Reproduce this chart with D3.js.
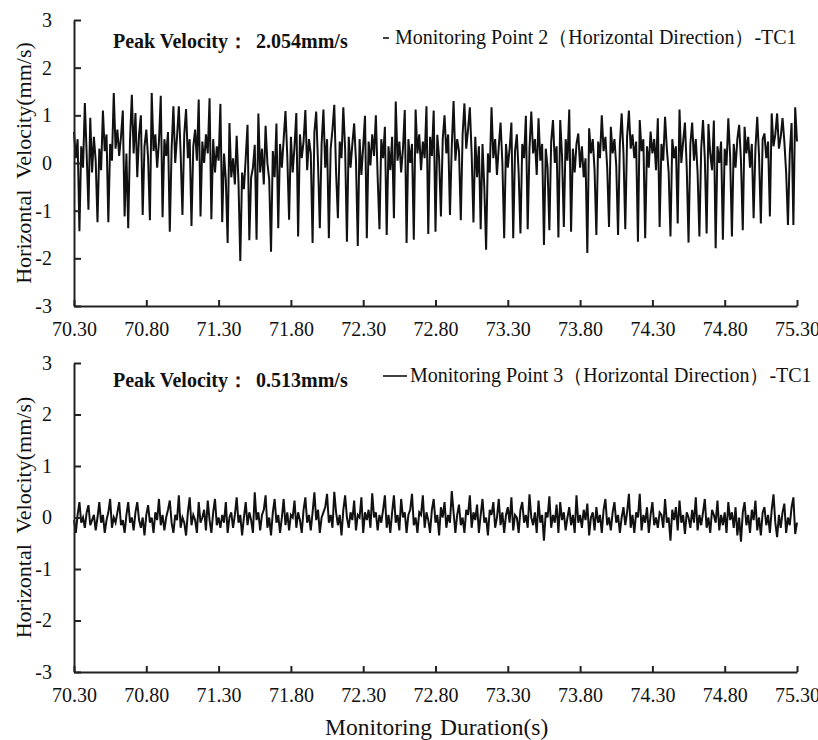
<!DOCTYPE html>
<html>
<head>
<meta charset="utf-8">
<script src="https://cdn.jsdelivr.net/npm/d3@7"></script>
<style>
  html, body { margin: 0; padding: 0; background: #fff; }
  svg { display: block; }
</style>
</head>
<body>
<svg id="chart" width="818" height="740" font-family="Liberation Serif, Times New Roman, serif"></svg>
<script>
// Sampling of the record (seconds)
const sampleStart = 70.30;
const sampleStep = 0.0125;

// Axis ticks
const xTicks = [70.30, 70.80, 71.30, 71.80, 72.30, 72.80, 73.30, 73.80, 74.30, 74.80, 75.30];
const yTicks = [-3, -2, -1, 0, 1, 2, 3];

// Monitoring point 2, horizontal velocity (mm/s)
const point2Velocity = [
  0.65, 0.1, 0.5, -1.43, 0.35, -0.1, 1.26, 0.2, -0.98, 0.95,
  -0.2, 0.55, 0.05, -1.24, 0.3, -0.15, 1.10, 0.25, 0.6, -1.24,
  0.4, 0.05, 1.47, 0.3, 0.7, 0.15, 0.55, 1.10, -1.12, 0.2,
  -1.37, 0.5, 1.43, 0.2, 1.05, -0.3, 0.6, 1.00, -1.09, 0.35,
  0.7, 0.1, -1.20, 1.47, 0.25, 0.6, -0.1, 0.45, 1.41, -1.14,
  0.5, 0.15, 0.65, -1.44, 0.3, 1.19, 0.0, 0.55, 1.19, 0.2,
  -1.09, 0.6, 1.13, 0.1, 0.5, -1.32, 0.35, 0.7, 0.05, 1.33,
  -1.12, 0.45, 0.0, 0.6, 0.2, 1.36, -1.18, 0.5, -0.2, 0.35,
  0.05, 1.24, -1.24, 0.2, -0.35, -1.68, 0.84, -0.3, 0.1, -0.45,
  0.57, -0.4, -2.054, -0.2, -0.55, 0.1, 0.80, -1.62, -0.3, -0.1,
  0.38, -1.61, 1.04, -0.2, 0.3, -0.45, 0.78, 0.0, -0.35, -1.86,
  0.25, -0.3, 0.83, -1.37, 0.4, -0.1, 0.5, 1.09, 0.15, -1.19,
  0.55, -0.2, 0.35, 1.05, -1.54, 0.6, 0.1, 0.45, 1.11, -0.15,
  0.5, 0.2, -1.68, 0.65, 1.08, 0.0, -1.37, 0.4, 1.12, -0.1,
  0.5, -1.58, 0.3, 0.7, 1.22, -0.2, -1.16, 0.45, 0.1, 1.17,
  0.3, -1.65, 0.55, -0.1, 0.4, 0.83, 0.05, -1.74, 0.5, -0.25,
  0.35, 0.99, -1.58, 0.45, -0.05, 0.6, 0.15, 1.00, -0.3, -1.39,
  0.5, 0.1, 0.76, -1.51, 0.35, -0.15, 0.55, -1.16, 1.29, 0.05,
  0.45, -0.2, 0.3, 1.11, -1.68, 0.5, 0.0, 0.4, -1.61, 1.12,
  0.2, 0.6, -0.15, 0.45, 0.1, 1.19, -1.49, 0.55, 0.15, 1.10,
  -1.44, 0.59, 0.1, -1.12, 0.5, 1.00, 0.2, 0.6, -1.09, 0.35,
  1.30, 0.05, 0.5, 0.25, -1.20, 0.6, 1.25, 0.3, 0.7, 1.17,
  0.2, -1.25, 0.55, -0.3, 0.35, -1.39, 0.4, -0.5, -1.82, 0.2,
  -0.2, 1.17, 0.1, 0.5, -0.25, 0.35, 0.85, 0.0, -1.58, 0.4,
  -0.1, 0.3, 0.85, -1.58, 0.25, 0.6, -0.2, -1.48, 0.4, 0.1,
  0.99, -1.39, 0.3, 1.08, 0.2, 0.5, -0.25, 0.94, 0.05, 0.4,
  -1.72, 0.3, -0.1, -1.41, 0.45, 0.90, 0.0, 0.35, -1.56, 0.90,
  0.15, -1.34, 0.5, 0.05, 1.12, -1.44, 0.3, -0.2, 0.4, 0.62,
  -0.1, 0.35, -0.3, 0.1, -1.89, 0.73, 0.2, 0.5, -0.15, -1.51,
  0.45, 0.1, 1.00, 0.25, 0.55, -0.1, -1.34, 0.76, 0.2, 0.5,
  -0.05, -1.51, 0.4, 1.04, 0.2, -1.39, 0.55, 1.10, 0.3, 0.6,
  0.1, 0.45, -1.65, 0.90, 0.25, 0.5, -1.58, 0.35, -0.1, 0.66,
  0.2, 0.5, -0.15, 0.94, -1.34, 0.4, 0.05, 0.97, 0.3, -0.2,
  -1.54, 0.5, 0.1, 0.35, -1.27, 1.12, 0.0, 0.45, 0.85, -0.1,
  -1.67, 0.4, 0.85, 0.05, 0.5, -0.2, -1.54, 0.3, 0.90, 0.1,
  -1.48, 0.82, 0.2, -0.15, 0.89, -1.79, 0.35, 0.0, 0.45, -1.61,
  0.3, -0.05, 0.94, 0.15, -1.54, 0.4, -0.1, 0.5, 0.80, 0.05,
  -1.41, 0.76, 0.2, 0.55, -0.1, 0.4, -1.16, 0.3, 0.97, 0.15,
  -1.27, 0.5, 0.62, 0.1, 0.45, -1.12, 1.04, 0.35, 0.6, 1.04,
  0.3, 0.55, 0.94, 0.45, -0.2, -1.30, 0.2, 0.84, -1.30, 1.17,
  0.45
];

// Monitoring point 3, horizontal velocity (mm/s)
const point3Velocity = [
  -0.05, -0.3, 0.05, 0.30, -0.1, 0.0, -0.2, 0.1, 0.24, -0.15,
  -0.05, 0.05, -0.25, 0.0, 0.30, -0.1, 0.05, -0.3, -0.05, 0.1,
  0.36, -0.2, 0.0, -0.1, 0.1, 0.30, -0.15, -0.05, -0.3, 0.05,
  0.30, -0.1, 0.0, -0.25, 0.1, 0.30, -0.05, -0.2, 0.0, -0.35,
  0.05, 0.24, -0.1, 0.0, -0.3, 0.1, -0.05, 0.36, -0.15, 0.05,
  -0.25, 0.0, 0.15, 0.33, -0.1, -0.3, 0.05, -0.05, 0.43, -0.2,
  0.0, -0.1, -0.35, 0.1, 0.39, -0.15, 0.05, -0.05, -0.3, 0.30,
  -0.1, 0.0, 0.15, -0.25, 0.33, -0.05, -0.3, 0.1, 0.36, -0.15,
  0.0, -0.2, 0.05, -0.1, 0.30, -0.3, 0.0, 0.1, -0.2, 0.05,
  0.39, -0.1, 0.05, -0.35, 0.0, 0.30, -0.15, 0.1, -0.05, -0.3,
  0.49, -0.05, 0.1, -0.25, 0.05, 0.15, 0.43, -0.2, 0.0, -0.35,
  0.1, 0.36, -0.1, 0.05, -0.3, 0.0, 0.36, -0.15, 0.1, -0.25,
  0.05, 0.0, 0.33, -0.2, 0.1, -0.05, -0.3, 0.15, 0.39, -0.1,
  0.05, -0.25, 0.1, 0.49, -0.05, 0.15, -0.3, 0.0, 0.1, 0.2,
  0.46, -0.1, 0.05, -0.2, 0.50, 0.1, -0.15, 0.05, -0.35, 0.15,
  0.43, 0.0, -0.2, 0.1, -0.05, 0.33, -0.25, 0.05, 0.0, 0.39,
  -0.3, 0.1, -0.05, 0.15, -0.2, 0.47, 0.0, 0.1, -0.25, 0.05,
  -0.1, 0.15, 0.43, -0.2, 0.05, -0.3, 0.1, 0.43, -0.1, 0.05,
  -0.25, 0.36, 0.0, 0.1, -0.3, 0.05, 0.15, 0.46, -0.15, 0.0,
  -0.3, 0.1, 0.05, 0.43, -0.2, 0.1, -0.05, -0.3, 0.15, 0.36,
  -0.1, 0.05, -0.35, 0.2, 0.0, 0.3, -0.2, 0.05, -0.1, 0.513,
  0.1, -0.3, 0.05, 0.25, -0.15, 0.0, -0.3, 0.15, 0.05, 0.43,
  -0.2, 0.1, -0.05, 0.25, -0.3, 0.05, 0.36, -0.1, 0.0, -0.35,
  0.15, 0.05, 0.3, -0.2, 0.0, 0.36, -0.15, 0.1, -0.3, 0.05,
  0.2, -0.1, 0.39, -0.25, 0.05, 0.0, -0.3, 0.15, 0.3, -0.1,
  0.05, -0.2, 0.45, 0.0, -0.15, 0.1, -0.3, 0.33, -0.1, 0.05,
  -0.45, 0.1, 0.0, 0.41, -0.2, 0.05, -0.1, 0.25, -0.3, 0.30,
  -0.05, 0.1, -0.25, 0.0, 0.2, -0.15, 0.05, -0.3, 0.43, -0.1,
  0.05, -0.2, 0.15, -0.05, 0.27, -0.35, 0.0, 0.1, -0.25, 0.2,
  -0.1, 0.05, -0.3, 0.15, 0.36, -0.15, 0.0, -0.25, 0.1, 0.30,
  -0.1, 0.05, -0.3, 0.0, 0.2, -0.15, 0.1, 0.46, -0.2, 0.05,
  -0.3, 0.1, 0.0, 0.46, -0.25, 0.05, -0.1, 0.2, -0.3, 0.05,
  0.30, -0.15, 0.0, -0.2, 0.1, 0.05, -0.2, 0.36, -0.1, 0.0,
  -0.45, 0.15, -0.05, 0.2, -0.25, 0.33, -0.1, 0.05, -0.32, 0.1,
  0.0, -0.2, 0.15, -0.1, 0.39, -0.25, 0.05, -0.15, 0.1, 0.36,
  -0.2, 0.0, -0.3, 0.15, 0.05, -0.1, 0.33, -0.25, 0.05, -0.15,
  0.1, -0.3, 0.30, -0.05, 0.1, -0.2, 0.2, -0.35, 0.0, -0.47,
  0.1, 0.30, -0.15, 0.05, -0.3, 0.15, -0.05, 0.33, -0.25, 0.0,
  -0.35, 0.1, 0.2, -0.15, 0.05, -0.3, 0.15, 0.45, -0.1, -0.38,
  0.05, -0.2, 0.1, 0.27, -0.3, 0.0, -0.15, 0.2, 0.39, -0.32,
  -0.1
];

const panels = [
  { values: point2Velocity, peak: '2.054mm/s',
    legend: 'Monitoring Point 2（Horizontal Direction）-TC1',
    top: 20, bottom: 306, legendLine: [383, 389], legendX: 395, legendY: 44, peakY: 48 },
  { values: point3Velocity, peak: '0.513mm/s',
    legend: 'Monitoring Point 3（Horizontal Direction）-TC1',
    top: 363, bottom: 672, legendLine: [383, 407], legendX: 410, legendY: 382, peakY: 387 }
];

const serif = 'Liberation Serif, Times New Roman, serif';

const svg = d3.select('#chart');
const left = 74, right = 797;

const x = d3.scaleLinear().domain([70.30, 75.30]).range([left, right]);

panels.forEach(p => {
  const times = p.values.map((_, i) => sampleStart + i * sampleStep);
  const y = d3.scaleLinear().domain([-3, 3]).range([p.bottom, p.top]);
  const g = svg.append('g');

  // trace
  g.append('path')
    .datum(p.values)
    .attr('fill', 'none')
    .attr('stroke', '#111')
    .attr('stroke-width', 2)
    .attr('stroke-linejoin', 'miter')
    .attr('d', d3.line().x((d, i) => x(times[i])).y(d => y(d)));

  // y axis, ticks pointing inward
  const ya = g.append('g')
    .attr('transform', `translate(${left},0)`)
    .call(d3.axisLeft(y).tickValues(yTicks).tickFormat(d => String(d))
      .tickSizeInner(-7).tickSizeOuter(0).tickPadding(22));
  // x axis, ticks pointing inward
  const xa = g.append('g')
    .attr('transform', `translate(0,${p.bottom})`)
    .call(d3.axisBottom(x).tickValues(xTicks).tickFormat(d => d.toFixed(2))
      .tickSizeInner(-6).tickSizeOuter(0).tickPadding(16));

  [ya, xa].forEach(a => {
    a.attr('font-family', serif).attr('font-size', 20);
    a.select('.domain').attr('stroke', '#222').attr('stroke-width', 2);
    a.selectAll('.tick line').attr('stroke', '#222').attr('stroke-width', 2);
    a.selectAll('.tick text').attr('fill', '#111');
  });

  // y axis title
  g.append('text')
    .attr('transform', `translate(31,${(p.top + p.bottom) / 2}) rotate(-90)`)
    .attr('text-anchor', 'middle')
    .attr('font-size', 22)
    .attr('fill', '#111')
    .style('white-space', 'pre')
    .text('Horizontal  Velocity(mm/s)');

  // peak annotation
  const pk = g.append('text')
    .attr('y', p.peakY)
    .attr('font-size', 20)
    .attr('font-weight', 'bold')
    .attr('fill', '#111');
  pk.append('tspan').attr('x', 113).text('Peak Velocity：');
  pk.append('tspan').attr('x', 256).text(p.peak);

  // legend
  g.append('line')
    .attr('x1', p.legendLine[0]).attr('x2', p.legendLine[1])
    .attr('y1', p.legendY - 6).attr('y2', p.legendY - 6)
    .attr('stroke', '#111').attr('stroke-width', 1.6);
  g.append('text')
    .attr('x', p.legendX).attr('y', p.legendY)
    .attr('font-size', 20)
    .attr('fill', '#111')
    .text(p.legend);
});

// x axis title
const xt = svg.append('text')
  .attr('y', 735)
  .attr('font-size', 23.5)
  .attr('fill', '#111');
xt.append('tspan').attr('x', 325).text('Monitoring');
xt.append('tspan').attr('x', 440).text('Duration(s)');
</script>
</body>
</html>
